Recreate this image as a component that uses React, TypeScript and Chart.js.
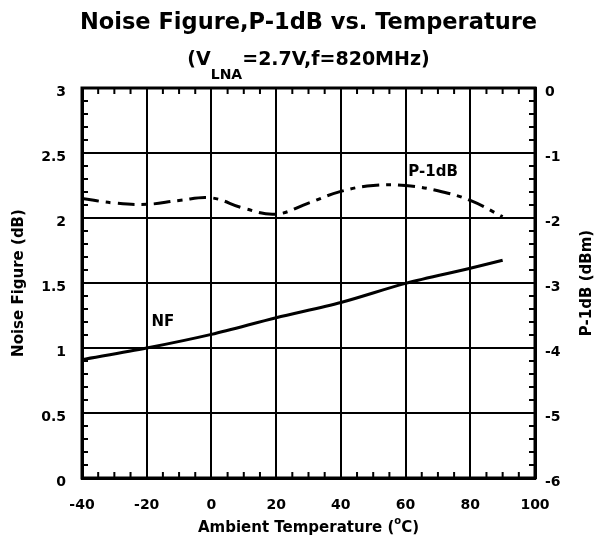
import React, { useEffect, useRef } from "react";
import { Chart, registerables } from "chart.js";

Chart.register(...registerables);

const FONT = "'DejaVu Sans', 'Liberation Sans', sans-serif";

// ---- text ----
const titleText = "Noise Figure,P-1dB vs. Temperature";
const subtitleMain1 = "(V";
const subtitleSub = "LNA";
const subtitleMain2 = "=2.7V,f=820MHz)";
const xTitle1 = "Ambient Temperature (";
const xTitleSup = "o";
const xTitle2 = "C)";
const yLeftTitle = "Noise Figure (dB)";
const yRightTitle = "P-1dB (dBm)";

// ---- tick labels ----
const xTickValues = [-40, -20, 0, 20, 40, 60, 80, 100];
const leftTickValues = [0, 0.5, 1, 1.5, 2, 2.5, 3];
const rightTickValues = [-6, -5, -4, -3, -2, -1, 0];

// ---- data ----
const nfTemps = [-40, -20, 0, 20, 40, 60, 80, 90];
const nfValues = [0.91, 1.0, 1.105, 1.233, 1.35, 1.497, 1.613, 1.675];

const p1dbTemps = [-40, -30, -20, -10, 0, 10, 20, 30, 40, 50, 60, 70, 80, 90];
const p1dbValues = [-1.7, -1.77, -1.79, -1.73, -1.69, -1.85, -1.94, -1.77, -1.59, -1.5, -1.5, -1.58, -1.73, -1.98];

// ---- in-plot labels (data coordinates) ----
const nfLabel = { text: "NF", x: -15, y: 1.2 };
const p1dbLabel = { text: "P-1dB", x: 68.5, y: -1.29 };

const decorPlugin = {
  id: "decor",
  afterDraw(chart: any) {
    const { ctx, chartArea: a, scales } = chart;
    const sx = scales.x;
    const sy = scales.y;
    const sy1 = scales.y1;
    const cx = (a.left + a.right) / 2;
    ctx.save();
    ctx.strokeStyle = "#000";
    ctx.fillStyle = "#000";

    // minor ticks (inward)
    const L = 6;
    ctx.lineWidth = 2;
    ctx.beginPath();
    for (let i = 0; i <= 28; i++) {
      if (i % 4 === 0) continue;
      const px = sx.getPixelForValue(-40 + i * 5);
      ctx.moveTo(px, a.bottom);
      ctx.lineTo(px, a.bottom - L);
      ctx.moveTo(px, a.top);
      ctx.lineTo(px, a.top + L);
    }
    for (let i = 1; i < 30; i++) {
      if (i % 5 === 0) continue;
      const py = sy.getPixelForValue(i / 10);
      ctx.moveTo(a.left, py);
      ctx.lineTo(a.left + L, py);
    }
    for (let i = 1; i < 30; i++) {
      if (i % 5 === 0) continue;
      const py = sy1.getPixelForValue(-6 + i * 0.2);
      ctx.moveTo(a.right, py);
      ctx.lineTo(a.right - L, py);
    }
    ctx.stroke();

    // frame
    ctx.lineWidth = 3;
    ctx.strokeRect(a.left, a.top, a.right - a.left, a.bottom - a.top);

    // title
    ctx.textAlign = "left";
    ctx.textBaseline = "alphabetic";
    ctx.font = `bold 22.5px ${FONT}`;
    const tw = ctx.measureText(titleText).width;
    ctx.fillText(titleText, cx - tw / 2, 29);

    // subtitle with subscript
    const mainFont = `bold 19px ${FONT}`;
    const subFont = `bold 14px ${FONT}`;
    ctx.font = mainFont;
    const w1 = ctx.measureText(subtitleMain1).width;
    const w3 = ctx.measureText(subtitleMain2).width;
    ctx.font = subFont;
    const w2 = ctx.measureText(subtitleSub).width;
    let sx0 = cx - (w1 + w2 + w3) / 2;
    ctx.font = mainFont;
    ctx.fillText(subtitleMain1, sx0, 65);
    sx0 += w1;
    ctx.font = subFont;
    ctx.fillText(subtitleSub, sx0, 79);
    sx0 += w2;
    ctx.font = mainFont;
    ctx.fillText(subtitleMain2, sx0, 65);

    // x axis title with superscript
    const xf = `bold 15px ${FONT}`;
    const xs = `bold 10px ${FONT}`;
    ctx.font = xf;
    const a1 = ctx.measureText(xTitle1).width;
    const a3 = ctx.measureText(xTitle2).width;
    ctx.font = xs;
    const a2 = ctx.measureText(xTitleSup).width;
    let xx = cx - (a1 + a2 + a3) / 2;
    ctx.font = xf;
    ctx.fillText(xTitle1, xx, 532);
    xx += a1;
    ctx.font = xs;
    ctx.fillText(xTitleSup, xx, 524);
    xx += a2;
    ctx.font = xf;
    ctx.fillText(xTitle2, xx, 532);

    // y titles (rotated, reading bottom to top)
    const cy = (a.top + a.bottom) / 2;
    ctx.font = `bold 15px ${FONT}`;
    ctx.textAlign = "center";
    ctx.textBaseline = "middle";
    ctx.save();
    ctx.translate(19, cy);
    ctx.rotate(-Math.PI / 2);
    ctx.fillText(yLeftTitle, 0, 0);
    ctx.restore();
    ctx.save();
    ctx.translate(587, cy);
    ctx.rotate(-Math.PI / 2);
    ctx.fillText(yRightTitle, 0, 0);
    ctx.restore();

    // in-plot labels
    ctx.font = `bold 15px ${FONT}`;
    ctx.fillText(nfLabel.text, sx.getPixelForValue(nfLabel.x), sy.getPixelForValue(nfLabel.y));
    ctx.fillText(p1dbLabel.text, sx.getPixelForValue(p1dbLabel.x), sy1.getPixelForValue(p1dbLabel.y));

    ctx.restore();
  },
};

export default function App() {
  const ref = useRef<HTMLCanvasElement | null>(null);

  useEffect(() => {
    document.body.style.margin = "0";
    const canvas = ref.current;
    if (!canvas) return;
    const tickFont = { family: FONT, size: 14, weight: "bold" as const };
    const fmt = (v: any) => String(v);
    const chart = new Chart(canvas, {
      type: "line",
      data: {
        datasets: [
          {
            label: "NF",
            data: nfTemps.map((t, i) => ({ x: t, y: nfValues[i] })),
            yAxisID: "y",
            borderColor: "#000",
            borderWidth: 3,
            pointRadius: 0,
            tension: 0.3,
            fill: false,
          },
          {
            label: "P-1dB",
            data: p1dbTemps.map((t, i) => ({ x: t, y: p1dbValues[i] })),
            yAxisID: "y1",
            borderColor: "#000",
            borderWidth: 3,
            borderDash: [17, 7, 5, 7],
            pointRadius: 0,
            tension: 0.4,
            fill: false,
          },
        ],
      },
      options: {
        animation: false,
        responsive: false,
        layout: { padding: { top: 88, left: 0, right: 0, bottom: 0 } },
        plugins: {
          legend: { display: false },
          tooltip: { enabled: false },
          title: { display: false },
        },
        scales: {
          x: {
            type: "linear",
            min: -40,
            max: 100,
            afterBuildTicks: (s: any) => {
              s.ticks = xTickValues.map((v) => ({ value: v }));
            },
            afterFit: (s: any) => {
              s.height = 63;
            },
            grid: { color: "#000", lineWidth: 2, drawTicks: false },
            border: { display: true, color: "#000", width: 3 },
            ticks: { color: "#000", font: tickFont, padding: 19, maxRotation: 0, autoSkip: false, callback: fmt },
          },
          y: {
            type: "linear",
            position: "left",
            min: 0,
            max: 3,
            afterBuildTicks: (s: any) => {
              s.ticks = leftTickValues.map((v) => ({ value: v }));
            },
            afterFit: (s: any) => {
              s.width = 82;
            },
            grid: { color: "#000", lineWidth: 2, drawTicks: false },
            border: { display: true, color: "#000", width: 3 },
            ticks: { color: "#000", font: tickFont, padding: 16, labelOffset: 4, autoSkip: false, callback: fmt },
          },
          y1: {
            type: "linear",
            position: "right",
            min: -6,
            max: 0,
            afterBuildTicks: (s: any) => {
              s.ticks = rightTickValues.map((v) => ({ value: v }));
            },
            afterFit: (s: any) => {
              s.width = 62;
            },
            grid: { drawOnChartArea: false, drawTicks: false },
            border: { display: true, color: "#000", width: 3 },
            ticks: { color: "#000", font: tickFont, padding: 10, labelOffset: 4, autoSkip: false, callback: fmt },
          },
        },
      },
      plugins: [decorPlugin],
    });
    return () => chart.destroy();
  }, []);

  return <canvas ref={ref} width={597} height={541} style={{ display: "block" }} />;
}
